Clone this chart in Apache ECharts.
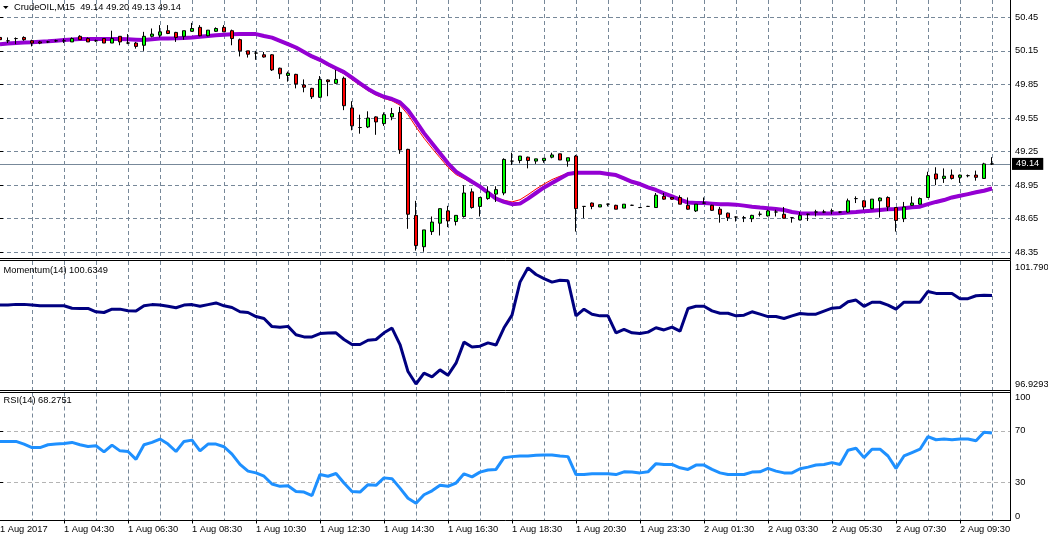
<!DOCTYPE html>
<html>
<head>
<meta charset="utf-8">
<script src="https://cdn.jsdelivr.net/npm/echarts@6/dist/echarts.min.js"></script>
<style>html,body{margin:0;padding:0;background:#fff;overflow:hidden}#c{width:1048px;height:539px}</style>
</head>
<body>
<div id="c"></div>
<script>
// ---------- data (CrudeOIL M15) ----------
const symbolName = 'CrudeOIL,M15';
const open = [
50.27,50.24,50.26,50.27,50.24,50.23,50.23,50.24,50.24,50.23,
50.28,50.26,50.24,50.26,50.22,50.28,50.22,50.22,50.20,50.28,
50.29,50.33,50.315,50.28,50.325,50.36,50.285,50.325,50.36,50.33,
50.25,50.15,50.13,50.115,50.115,49.995,49.93,49.94,49.845,49.815,
49.735,49.89,49.86,49.905,49.64,49.465,49.47,49.56,49.50,49.56,
49.60,49.27,48.68,48.40,48.535,48.61,48.72,48.625,48.67,48.89,
48.76,48.83,48.87,48.88,49.165,49.17,49.20,49.165,49.17,49.20,
49.23,49.165,49.21,48.76,48.79,48.755,48.78,48.77,48.745,48.77,
48.75,48.76,48.75,48.85,48.84,48.84,48.77,48.72,48.79,48.77,
48.735,48.70,48.665,48.66,48.65,48.69,48.675,48.71,48.69,48.66,
48.64,48.69,48.71,48.71,48.72,48.71,48.71,48.83,48.81,48.74,
48.81,48.84,48.75,48.65,48.77,48.78,48.84,49.05,49.01,49.04,
49.02,49.035,49.04,49.01,49.14];
const high = [
50.28,50.27,50.27,50.28,50.25,50.24,50.24,50.25,50.26,50.27,
50.29,50.27,50.25,50.26,50.33,50.28,50.30,50.23,50.32,50.35,
50.38,50.38,50.32,50.33,50.40,50.38,50.335,50.36,50.38,50.34,
50.26,50.15,50.15,50.14,50.12,50.00,49.965,49.945,49.895,49.82,
49.925,49.895,49.98,49.92,49.70,49.58,49.61,49.565,49.60,49.64,
49.65,49.275,48.81,48.55,48.67,48.74,48.765,48.68,48.95,48.92,
48.84,48.94,48.94,49.19,49.24,49.21,49.205,49.185,49.19,49.24,
49.23,49.195,49.22,48.76,48.795,48.775,48.785,48.775,48.78,48.775,
48.755,48.765,48.88,48.88,48.845,48.86,48.84,48.78,48.84,48.775,
48.755,48.705,48.67,48.675,48.685,48.715,48.73,48.73,48.755,48.665,
48.71,48.695,48.73,48.73,48.74,48.715,48.83,48.85,48.815,48.825,
48.84,48.85,48.755,48.80,48.85,48.84,49.07,49.11,49.10,49.09,
49.045,49.045,49.08,49.15,49.20];
const low = [
50.24,50.22,50.21,50.24,50.19,50.21,50.22,50.23,50.22,50.23,
50.25,50.23,50.23,50.22,50.22,50.20,50.21,50.17,50.15,50.27,
50.27,50.30,50.23,50.25,50.32,50.28,50.28,50.32,50.32,50.20,
50.10,50.09,50.07,50.09,49.97,49.90,49.875,49.815,49.78,49.72,
49.73,49.745,49.855,49.62,49.44,49.41,49.46,49.40,49.48,49.53,
49.23,48.56,48.365,48.355,48.505,48.50,48.575,48.59,48.66,48.74,
48.67,48.82,48.80,48.86,49.13,49.145,49.10,49.14,49.15,49.19,
49.175,49.115,48.535,48.655,48.735,48.755,48.76,48.735,48.745,48.765,
48.745,48.755,48.75,48.82,48.82,48.78,48.73,48.71,48.785,48.72,
48.615,48.63,48.625,48.62,48.62,48.67,48.67,48.67,48.65,48.615,
48.635,48.63,48.67,48.70,48.69,48.70,48.705,48.79,48.73,48.735,
48.66,48.72,48.535,48.62,48.765,48.775,48.835,48.95,48.97,49.00,
48.97,49.02,48.99,49.005,49.13];
const close = [
50.25,50.24,50.26,50.25,50.22,50.22,50.23,50.24,50.24,50.26,
50.25,50.23,50.24,50.22,50.26,50.23,50.22,50.19,50.28,50.30,
50.32,50.305,50.27,50.33,50.35,50.285,50.335,50.35,50.32,50.26,
50.15,50.12,50.13,50.095,49.98,49.945,49.95,49.855,49.825,49.74,
49.895,49.875,49.895,49.66,49.48,49.465,49.55,49.515,49.58,49.59,
49.265,48.69,48.41,48.55,48.62,48.74,48.63,48.68,48.88,48.75,
48.84,48.89,48.91,49.18,49.165,49.21,49.17,49.185,49.19,49.22,
49.175,49.195,48.74,48.76,48.76,48.775,48.78,48.735,48.78,48.77,
48.75,48.76,48.86,48.825,48.825,48.78,48.735,48.78,48.79,48.725,
48.69,48.66,48.665,48.66,48.68,48.69,48.72,48.71,48.655,48.66,
48.68,48.69,48.71,48.71,48.72,48.71,48.81,48.83,48.755,48.825,
48.835,48.755,48.635,48.755,48.79,48.83,49.035,49.005,49.03,49.01,
49.04,49.035,49.02,49.14,49.14];
// thick violet moving average
const maSlow = [
50.21,50.215,50.22,50.224,50.227,50.231,50.235,50.241,50.247,50.252,
50.256,50.256,50.256,50.256,50.256,50.255,50.253,50.25,50.247,50.253,
50.26,50.261,50.262,50.266,50.27,50.277,50.283,50.289,50.295,50.298,
50.30,50.30,50.30,50.283,50.268,50.24,50.21,50.18,50.14,50.10,
50.07,50.03,49.995,49.96,49.91,49.86,49.81,49.77,49.74,49.72,
49.69,49.62,49.52,49.415,49.325,49.235,49.145,49.07,49.026,48.98,
48.937,48.883,48.83,48.80,48.78,48.785,48.83,48.88,48.93,48.97,
49.01,49.05,49.06,49.06,49.06,49.06,49.05,49.04,49.01,48.98,
48.96,48.93,48.907,48.877,48.85,48.82,48.795,48.79,48.79,48.785,
48.78,48.78,48.776,48.767,48.758,48.75,48.743,48.737,48.728,48.71,
48.70,48.697,48.697,48.697,48.697,48.70,48.705,48.71,48.716,48.722,
48.728,48.734,48.737,48.743,48.752,48.758,48.78,48.80,48.817,48.84,
48.856,48.87,48.886,48.90,48.92];
// thin red moving average
const maFast = [
50.21,50.215,50.22,50.224,50.227,50.231,50.235,50.241,50.247,50.252,
50.256,50.256,50.256,50.256,50.256,50.255,50.253,50.25,50.247,50.253,
50.26,50.261,50.262,50.266,50.27,50.277,50.283,50.289,50.295,50.298,
50.30,50.30,50.30,50.278,50.26,50.23,50.20,50.168,50.13,50.09,
50.058,50.018,49.982,49.945,49.893,49.843,49.795,49.755,49.725,49.703,
49.665,49.58,49.47,49.37,49.28,49.195,49.11,49.045,49.008,48.968,
48.93,48.878,48.835,48.815,48.80,48.82,48.865,48.915,48.96,49.00,
49.03,49.058,49.065,49.063,49.06,49.058,49.047,49.033,49.00,48.97,
48.95,48.92,48.898,48.868,48.84,48.81,48.787,48.79,48.79,48.785,
48.78,48.78,48.776,48.767,48.758,48.75,48.743,48.737,48.728,48.71,
48.70,48.697,48.697,48.697,48.697,48.70,48.705,48.71,48.716,48.722,
48.728,48.734,48.737,48.743,48.752,48.758,48.785,48.807,48.825,48.848,
48.864,48.879,48.895,48.91,48.93];
const momentum = [
100.23,100.23,100.26,100.26,100.23,100.20,100.20,100.20,100.20,100.10,
100.09,100.09,99.95,99.92,100.06,100.06,99.99,99.98,100.20,100.25,
100.23,100.18,100.12,100.23,100.25,100.18,100.25,100.32,100.20,100.13,
99.95,99.92,99.75,99.67,99.33,99.30,99.34,98.99,98.90,98.90,
99.04,99.06,99.07,98.79,98.58,98.58,98.76,98.79,99.07,99.27,
98.58,97.45,96.9293,97.38,97.23,97.52,97.30,97.80,98.68,98.48,
98.51,98.65,98.56,99.28,99.81,101.19,101.79,101.51,101.34,101.19,
101.27,101.25,99.78,100.06,99.85,99.78,99.78,99.07,99.21,99.07,
99.04,99.10,99.28,99.19,99.31,99.14,100.09,100.18,100.18,99.99,
99.89,99.89,99.78,99.81,99.95,99.85,99.75,99.75,99.67,99.78,
99.88,99.85,99.85,99.98,100.10,100.13,100.37,100.44,100.18,100.35,
100.35,100.23,100.06,100.35,100.35,100.35,100.80,100.72,100.72,100.72,
100.50,100.50,100.62,100.64,100.6349];
const rsi = [
61.8,61.8,61.8,59.7,57.0,57.0,59.2,59.7,60.2,61.0,
59.2,57.8,58.4,53.6,58.9,54.4,53.9,47.8,59.2,61.0,
63.6,59.7,53.9,61.8,62.8,54.4,59.7,59.7,57.6,51.8,
43.8,38.6,37.2,34.6,28.5,26.7,27.2,22.7,22.2,19.5,
35.9,34.6,36.7,29.3,22.7,22.2,28.0,27.5,33.3,32.7,
25.3,17.4,13.5,20.1,23.2,27.5,26.7,29.3,36.5,34.1,
37.8,39.4,39.9,49.1,49.9,50.4,50.4,51.0,51.2,51.2,
50.4,49.9,35.9,35.9,36.5,36.5,36.5,35.9,38.0,37.8,
37.2,38.0,44.4,43.8,43.8,41.2,39.9,43.3,43.3,39.9,
37.2,35.9,35.9,35.9,37.8,38.0,40.7,38.6,37.2,37.2,
40.4,41.7,43.3,43.8,45.2,43.8,54.9,56.5,49.1,55.7,
55.7,50.4,40.7,50.4,53.1,55.7,65.5,63.1,63.6,63.1,
63.6,63.6,62.3,68.9,68.2751];
// axis ticks / labels
const tickBars = [0,8,16,24,32,40,48,56,64,72,80,88,96,104,112,120];
const tickLabels = ['1 Aug 2017','1 Aug 04:30','1 Aug 06:30','1 Aug 08:30','1 Aug 10:30','1 Aug 12:30',
  '1 Aug 14:30','1 Aug 16:30','1 Aug 18:30','1 Aug 20:30','1 Aug 23:30','2 Aug 01:30','2 Aug 03:30',
  '2 Aug 05:30','2 Aug 07:30','2 Aug 09:30'];
const priceTicks = [48.35,48.65,48.95,49.25,49.55,49.85,50.15,50.45];
const momentumTicks = [96.9293,101.79];
const rsiTicks = [0,30,70,100];
const rsiLevels = [30,70];
const bidPrice = 49.14;

// ---------- chart ----------
const F = 'Liberation Sans';
const FS = 9.3;
const gridColor = '#778899';
const dash = [4,3];
const N = open.length;
const idx = open.map((_, i) => i);
const gridBars = [];
for (let i = 4; i < N; i += 4) gridBars.push(i);
const X_MAX = 126.25;
const last = N - 1;

// axis carrying only the dashed vertical grid
function gridAx(gi) {
  return {
    type: 'value', gridIndex: gi, min: 0, max: X_MAX,
    axisLine: {show: false},
    axisTick: {show: false, customValues: gridBars},
    axisLabel: {show: false},
    splitLine: {show: true, lineStyle: {color: gridColor, type: dash, width: 1}}
  };
}
// bottom time axis with labels + ticks at labelled bars
const timeAx = {
  type: 'value', gridIndex: 2, min: 0, max: X_MAX, position: 'bottom',
  axisLine: {show: false},
  axisTick: {show: true, customValues: tickBars.slice(1), length: 3, inside: false, lineStyle: {color: '#000'}},
  axisLabel: {
    show: true, customValues: tickBars,
    formatter: v => { const k = tickBars.indexOf(Math.round(v)); return k >= 0 ? tickLabels[k] : ''; },
    align: 'left', margin: 4, color: '#000', fontFamily: F, fontSize: FS
  },
  splitLine: {show: false}
};

const chart = echarts.init(document.getElementById('c'), null, {renderer: 'canvas'});
const hl = (y) => ({type: 'line', z: 100, silent: true, shape: {x1: 0, y1: y, x2: 1010.5, y2: y}, style: {stroke: '#000', lineWidth: 1}});
chart.setOption({
  animation: false,
  backgroundColor: '#fff',
  grid: [
    {left: 0, top: 0, width: 1010, height: 258.5, outerBoundsMode: 'none', containLabel: false},
    {left: 0, top: 261, width: 1010, height: 129, outerBoundsMode: 'none', containLabel: false},
    {left: 0, top: 392.5, width: 1010, height: 128, outerBoundsMode: 'none', containLabel: false}
  ],
  xAxis: [gridAx(0), gridAx(1), timeAx, gridAx(2)],
  yAxis: [
    {type: 'value', gridIndex: 0, position: 'right', min: 48.2946, max: 50.6046,
      axisLine: {show: false},
      axisTick: {show: true, customValues: priceTicks, length: 3, lineStyle: {color: '#000'}},
      axisLabel: {customValues: priceTicks, formatter: v => v.toFixed(2), margin: 5, color: '#000', fontFamily: F, fontSize: FS},
      splitLine: {show: true, lineStyle: {color: gridColor, type: dash, width: 1}}},
    {type: 'value', gridIndex: 1, position: 'right', min: 96.6783, max: 102.0744,
      axisLine: {show: false},
      axisTick: {show: false, customValues: momentumTicks},
      axisLabel: {customValues: momentumTicks, formatter: v => v.toPrecision(6), margin: 5, color: '#000', fontFamily: F, fontSize: FS},
      splitLine: {show: false}},
    {type: 'value', gridIndex: 2, position: 'right', min: 0, max: 100,
      axisLine: {show: false},
      axisTick: {show: true, customValues: rsiLevels, length: 3, lineStyle: {color: '#000'}},
      axisLabel: {customValues: rsiTicks, formatter: v => String(Math.round(v)), margin: 5, color: '#000', fontFamily: F, fontSize: FS,
        verticalAlignMinLabel: 'bottom', verticalAlignMaxLabel: 'top'},
      splitLine: {show: true, lineStyle: {color: '#b4b4b4', type: dash, width: 1}}}
  ],
  series: [
    {type: 'line', xAxisIndex: 0, yAxisIndex: 0, data: idx.map(i => [i, maFast[i]]), symbol: 'none', silent: true,
      lineStyle: {color: '#ff0000', width: 1}, z: 2},
    {type: 'line', xAxisIndex: 0, yAxisIndex: 0, data: idx.map(i => [i, maSlow[i]]), symbol: 'none', silent: true,
      lineStyle: {color: '#9400d3', width: 4}, z: 2},
    {type: 'candlestick', xAxisIndex: 0, yAxisIndex: 0, silent: true, z: 3,
      data: idx.map(i => [i, open[i], close[i], low[i], high[i]]),
      encode: {x: 0, y: [1, 2, 3, 4]},
      barWidth: 4,
      itemStyle: {color: '#00ff00', color0: '#ff0000', borderColor: '#000', borderColor0: '#000', borderColorDoji: '#000', borderWidth: 1},
      markLine: {symbol: 'none', silent: true, animation: false, z: 1,
        data: [{yAxis: bidPrice}],
        lineStyle: {color: '#778899', type: 'solid', width: 1},
        emphasis: {disabled: true},
        label: {show: true, position: 'end', formatter: bidPrice.toFixed(2), color: '#fff', backgroundColor: '#000',
          padding: [2, 4, 1, 4], fontFamily: F, fontSize: FS, distance: 2}}},
    {type: 'line', xAxisIndex: 1, yAxisIndex: 1, data: idx.map(i => [i, momentum[i]]), symbol: 'none', silent: true,
      lineStyle: {color: '#000080', width: 3}, z: 2},
    {type: 'line', xAxisIndex: 2, yAxisIndex: 2, data: idx.map(i => [i, rsi[i]]), symbol: 'none', silent: true,
      lineStyle: {color: '#1e90ff', width: 3}, z: 2}
  ],
  graphic: [
    hl(258.5), hl(260.5), hl(390.5), hl(392.5), hl(520.5),
    {type: 'line', z: 100, silent: true, shape: {x1: 1010.5, y1: 0, x2: 1010.5, y2: 521}, style: {stroke: '#000', lineWidth: 1}},
    {type: 'polygon', z: 100, silent: true, shape: {points: [[3, 6], [8.5, 6], [5.75, 9]]}, style: {fill: '#000'}},
    {type: 'text', z: 100, silent: true, x: 14, y: 7.5,
      style: {text: symbolName + '  ' + [open[last], high[last], low[last], close[last]].map(v => v.toFixed(2)).join(' '),
        fill: '#000', font: FS + 'px "' + F + '"', verticalAlign: 'middle'}},
    {type: 'text', z: 100, silent: true, x: 3.5, y: 270.5,
      style: {text: 'Momentum(14) ' + momentum[last].toFixed(4), fill: '#000', font: FS + 'px "' + F + '"', verticalAlign: 'middle'}},
    {type: 'text', z: 100, silent: true, x: 3.5, y: 400.8,
      style: {text: 'RSI(14) ' + rsi[last].toFixed(4), fill: '#000', font: FS + 'px "' + F + '"', verticalAlign: 'middle'}}
  ]
});
</script>
</body>
</html>
